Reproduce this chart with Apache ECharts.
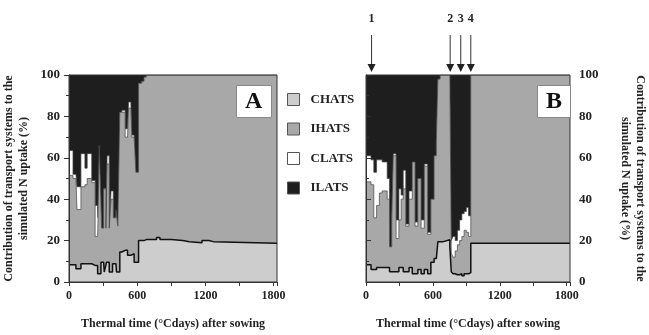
<!DOCTYPE html>
<html><head><meta charset="utf-8">
<script src="https://cdn.jsdelivr.net/npm/echarts@6/dist/echarts.min.js"></script>
<style>html,body{margin:0;padding:0;background:#fff}#c{width:649px;height:335px}</style>
</head><body><div id="c"></div>
<script>
// ---------- data (thermal time, °Cdays; contributions, %) ----------
const timeA = [0,35,61,70,105,140,160,200,208,230,252,255,266,281,287,305,310,325,330,335,354,370,383,390,413,418,430,447,465,494,515,524,544,553,573,588,612,640,660,680,770,800,900,1000,1060,1170,1230,1270,1830];
const chatsA = [8.3,8.3,6.4,6.4,8.8,8.8,8.8,8.8,8,8,4,4,4,9.5,9.5,9.5,4.8,4.8,9.5,9.5,4.8,4.8,8.8,8.8,8.8,4.8,4.8,14.5,15.3,15.3,12.9,12.9,13.7,13.7,9.5,9.5,20,20,20.5,20.5,21.5,20.5,20,19.5,19,20,19.5,18.7,18.7];
const ihatsA = [43.2,41.7,43.6,28.6,37.2,38.2,41.2,39.2,40,14,18,26,62,56.5,16.5,35.5,40.2,21.2,16.5,47.5,21.2,35.2,31.2,22.2,25.2,29.2,22.2,67.5,66.7,54.7,57.1,71.1,70.3,56.3,60.5,43.5,76,77,78.5,79.5,78.5,79.5,80,80.5,81,80,80.5,81.3,81.3];
const clatsA = [12,2,2,11,16,8,12,1,1,15,15,1,0,0,0,0,0,0,0,4,0,4,4,0,1,1,1,0,1,4,4,3,3,1,1,0,0,0,0,0,0,0,0,0,0,0,0,0,0];
const ilatsA = [36.5,48,48,54,38,45,38,51,51,63,63,69,34,34,74,55,55,74,74,39,74,56,56,69,65,65,72,18,17,26,26,13,13,29,29,47,4,3,1,0,0,0,0,0,0,0,0,0,0];

const timeB = [0,45,70,95,120,145,190,211,231,245,270,295,315,334,357,386,415,440,465,494,523,553,582,611,631,645,665,694,752,765,781,800,820,840,860,880,900,920,940,1830];
const chatsB = [8.3,6,6,7,7,7,7,5,5,5,5,7,7,5,5,7,4,4,6,4,6,4,9.6,11.4,12,19.5,19.5,20.4,17,5,4,3.5,3.5,4,3,4,4,4.5,18.7,18.7];
const ihatsB = [40.1,41,25,30,36,37,33,12,25,56,16,23,33,40,22,33,54,23,44,22,50,19,30.4,49.6,56,78.5,80.5,79.6,83,9,8,11.5,14.5,16,19,21,20,17.5,81.3,81.3];
const clatsB = [12.6,12,22,22,16,14,10,0,2,1,9,15,2,9,1,4,0,2,0,4,1,1,0,0,0,0,0,0,0,6,10,5,7,10,11,9,12,10,0,0];
const ilatsB = [39,41,47,41,41,42,50,83,68,38,70,55,58,46,72,56,42,71,50,70,43,76,60,39,32,2,0,0,0,80,78,80,75,70,67,66,64,68,0,0];

const seriesNames = ['CHATS','IHATS','CLATS','ILATS'];
const xTickValues = [0,600,1200,1800];
const yTickValues = [0,20,40,60,80,100];
const arrowTimes = [50,755,850,940];
const arrowLabels = ['1','2','3','4'];
const panelLetters = ['A','B'];
const xTitle = 'Thermal time (°Cdays) after sowing';
const yTitle = 'Contribution of transport systems to the\nsimulated N uptake (%)';

// ---------- styling ----------
const colors = ['#cdcdcd','#a8a8a8','#ffffff','#1e1e1e'];
const lineW = [1.5,0.7,0.7,0];
const FONT = 'Liberation Serif';
const chart = echarts.init(document.getElementById('c'), null, {renderer:'canvas'});

// stacked areas: each layer drawn from its cumulative top down to 0, upper layers first
function panelSeries(p, time, cols){
  const out = [];
  const cum = time.map(()=>0);
  const cums = cols.map(vals=>{ vals.forEach((v,k)=>{cum[k]+=v;}); return cum.slice(); });
  cums.forEach((c,i)=>{
    out.push({
      type:'line', name:seriesNames[i], xAxisIndex:p, yAxisIndex:p,
      step:'end', symbol:'none', showSymbol:false, animation:false,
      z: 5 - i,
      data: time.map((t,k)=>[t, Math.min(100, Math.round(c[k]*100)/100)]),
      itemStyle:{color:colors[i]},
      lineStyle:{color: i===0 ? '#111' : '#444', width: lineW[i]},
      areaStyle:{color:colors[i], opacity:1, origin:'start'}
    });
  });
  return out;
}

const xAxisCommon = (gi)=>({
  type:'value', gridIndex:gi, min:0, max:1830, interval:300, z:12,
  name:xTitle, nameLocation:'middle', nameGap:36,
  nameTextStyle:{fontFamily:FONT, fontWeight:'bold', fontSize:12, color:'#222'},
  axisLine:{show:true, lineStyle:{color:'#333', width:1}},
  axisTick:{show:true, length:4, lineStyle:{color:'#333'}},
  axisLabel:{fontFamily:FONT, fontWeight:'bold', fontSize:12, color:'#222', margin:8,
    formatter:(v)=> xTickValues.indexOf(v)>=0 ? String(v) : ''},
  splitLine:{show:false}
});

const yAxisCommon = (gi, pos)=>({
  type:'value', gridIndex:gi, min:0, max:100, interval:20, position:pos, z:12,
  name: yTitle, nameLocation:'middle',
  nameRotate: pos==='left' ? 90 : -90, nameGap: pos==='left' ? 38 : 48,
  nameTextStyle:{fontFamily:FONT, fontWeight:'bold', fontSize:12, color:'#222', lineHeight:15},
  axisLine:{show:true, lineStyle:{color:'#333', width:1}},
  axisTick:{show:true, length:5, lineStyle:{color:'#333'}},
  minorTick:{show:true, splitNumber:2, length:3, lineStyle:{color:'#333'}},
  axisLabel:{fontFamily:FONT, fontWeight:'bold', fontSize:13, color:'#222', margin:9,
    formatter:(v)=> yTickValues.indexOf(v)>=0 ? String(v) : ''},
  splitLine:{show:false}
});

const option = {
  backgroundColor:'#fff',
  animation:false,
  grid:[
    {left:68, top:75, width:209, height:207, show:true, borderColor:'#333', borderWidth:1, backgroundColor:'transparent', z:11},
    {left:366, top:75, width:207, height:207, show:true, borderColor:'#333', borderWidth:1, backgroundColor:'transparent', z:11}
  ],
  xAxis:[xAxisCommon(0), xAxisCommon(1)],
  yAxis:[yAxisCommon(0,'left'), yAxisCommon(1,'right')],
  legend:{
    orient:'vertical', left:282, top:88, itemWidth:12, itemHeight:12, itemGap:16.5,
    icon:'rect', data:seriesNames,
    itemStyle:{borderColor:'#555', borderWidth:1},
    textStyle:{fontFamily:FONT, fontWeight:'bold', fontSize:13, color:'#222', padding:[0,0,0,6]},
    selectedMode:false
  },
  title:[
    {text:panelLetters[0], left:236, top:85, z:30, padding:[5,9,4,9], borderColor:'#888', borderWidth:1, backgroundColor:'#fff',
     textStyle:{fontFamily:FONT, fontWeight:'bold', fontSize:24, color:'#111'}},
    {text:panelLetters[1], left:537, top:85, z:30, padding:[5,9,4,9], borderColor:'#888', borderWidth:1, backgroundColor:'#fff',
     textStyle:{fontFamily:FONT, fontWeight:'bold', fontSize:24, color:'#111'}}
  ],
  series: panelSeries(0, timeA, [chatsA, ihatsA, clatsA, ilatsA])
    .concat(panelSeries(1, timeB, [chatsB, ihatsB, clatsB, ilatsB]))
};
chart.setOption(option);

// arrows above panel B, positioned through the x scale
const gfx = [];
arrowTimes.forEach((t,i)=>{
  const px = chart.convertToPixel({xAxisIndex:1}, t);
  gfx.push({type:'text', x:px, y:19, style:{text:arrowLabels[i], x:0, y:0, align:'center', verticalAlign:'middle',
    font:'bold 12px "Liberation Serif"', fill:'#222'}});
  gfx.push({type:'line', shape:{x1:px, y1:35, x2:px, y2:65}, style:{stroke:'#333', lineWidth:1}});
  gfx.push({type:'polygon', shape:{points:[[px-4,64],[px+4,64],[px,72]]}, style:{fill:'#222'}});
});
chart.setOption({graphic:gfx});
</script></body></html>
